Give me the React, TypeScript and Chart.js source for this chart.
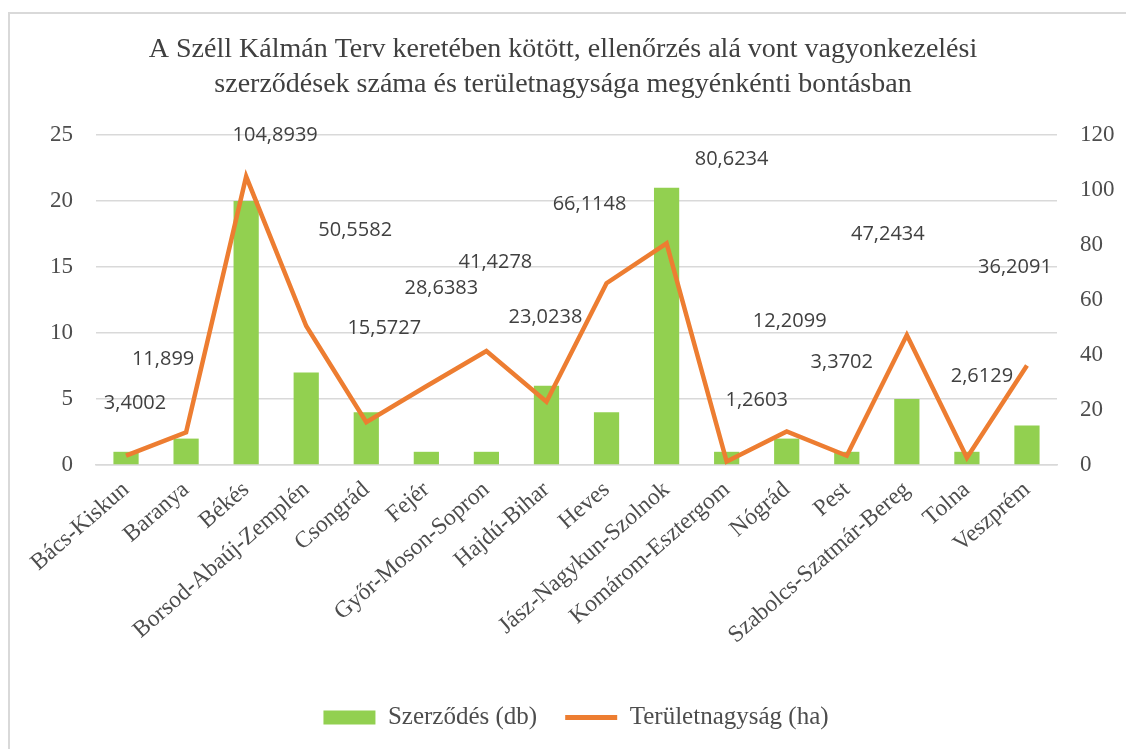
import React, { useEffect, useRef } from "react";
import { Chart, registerables } from "chart.js";

Chart.register(...registerables);

const titleLines = [
  "A Széll Kálmán Terv keretében kötött, ellenőrzés alá vont vagyonkezelési",
  "szerződések száma és területnagysága megyénkénti bontásban",
];

const categories = [
  "Bács-Kiskun",
  "Baranya",
  "Békés",
  "Borsod-Abaúj-Zemplén",
  "Csongrád",
  "Fejér",
  "Győr-Moson-Sopron",
  "Hajdú-Bihar",
  "Heves",
  "Jász-Nagykun-Szolnok",
  "Komárom-Esztergom",
  "Nógrád",
  "Pest",
  "Szabolcs-Szatmár-Bereg",
  "Tolna",
  "Veszprém",
];

const contracts = [1, 2, 20, 7, 4, 1, 1, 6, 4, 21, 1, 2, 1, 5, 1, 3];

const areas = [
  3.4002, 11.899, 104.8939, 50.5582, 15.5727, 28.6383, 41.4278, 23.0238,
  66.1148, 80.6234, 1.2603, 12.2099, 3.3702, 47.2434, 2.6129, 36.2091,
];

const leftTicks = [0, 5, 10, 15, 20, 25];
const rightTicks = [0, 20, 40, 60, 80, 100, 120];

// label placement offsets (px) relative to each line point
const labelOffsets: [number, number][] = [
  [9, -52], [-23, -73], [29, -41], [49, -96], [18, -94], [15, -98],
  [9, -89], [-1, -84], [-17, -79], [65, -84], [30, -61], [3, -110],
  [-5, -93], [-19, -101], [15, -82], [-12, -98],
];

const SERIF = '"Liberation Serif", "Times New Roman", serif';
const SANS = '"Open Sans", "Noto Sans", sans-serif';
const TEXT = "#4D4D4D";
const TITLE = "#404040";
const GRID = "#D9D9D9";
const LEGEND_SHIFT = 13;

const fmt = (v: number) => String(v).replace(".", ",");

const lineLabels = {
  id: "lineLabels",
  afterLayout(chart: any) {
    if (chart.legend) {
      chart.legend.left += LEGEND_SHIFT;
      chart.legend.right += LEGEND_SHIFT;
    }
  },
  afterDatasetsDraw(chart: any) {
    const meta = chart.getDatasetMeta(1);
    const ctx = chart.ctx;
    ctx.save();
    ctx.font = `20px ${SANS}`;
    ctx.fillStyle = "#404040";
    ctx.textAlign = "center";
    ctx.textBaseline = "middle";
    meta.data.forEach((pt: any, i: number) => {
      const [dx, dy] = labelOffsets[i];
      ctx.fillText(fmt(areas[i]), pt.x + dx, pt.y + dy);
    });
    ctx.restore();
  },
};

export default function App() {
  const ref = useRef<HTMLCanvasElement | null>(null);

  useEffect(() => {
    if (!ref.current) return;
    const chart = new Chart(ref.current, {
      data: {
        labels: categories,
        datasets: [
          {
            type: "bar",
            label: "Szerződés (db)",
            data: contracts,
            backgroundColor: "#92D050",
            yAxisID: "y",
            order: 1,
            barPercentage: 0.42,
            categoryPercentage: 1,
          } as any,
          {
            type: "line",
            label: "Területnagyság (ha)",
            data: areas,
            borderColor: "#ED7D31",
            backgroundColor: "#ED7D31",
            borderWidth: 4.5,
            pointRadius: 0,
            tension: 0,
            yAxisID: "y1",
            order: 0,
          } as any,
        ],
      },
      options: {
        responsive: false,
        animation: false,
        layout: { padding: { top: 0, left: 0, right: 0, bottom: 12 } },
        plugins: {
          title: {
            display: true,
            text: titleLines,
            color: TITLE,
            font: { family: SERIF, size: 28, weight: "normal", lineHeight: 1.25 },
            padding: { top: 32, bottom: 33 },
          },
          legend: {
            position: "bottom",
            maxHeight: 60,
            labels: {
              usePointStyle: true,
              pointStyleWidth: 52,
              boxHeight: 14,
              padding: 28,
              color: TEXT,
              font: { family: SERIF, size: 25 },
              sort: (a: any, b: any) => a.datasetIndex - b.datasetIndex,
              generateLabels: (c: any) => {
                const items = (Chart.defaults.plugins.legend.labels as any).generateLabels(c);
                items.forEach((it: any) => {
                  if (it.datasetIndex === 0) {
                    it.pointStyle = "rect";
                    it.lineWidth = 0;
                  } else {
                    it.pointStyle = "line";
                    it.lineWidth = 5;
                    it.strokeStyle = "#ED7D31";
                  }
                });
                return items;
              },
            },
          },
          tooltip: { enabled: false },
        },
        scales: {
          x: {
            grid: { display: false },
            border: { display: true, color: GRID, width: 1.5 },
            ticks: {
              minRotation: 41,
              maxRotation: 41,
              autoSkip: false,
              padding: 3,
              color: TEXT,
              font: { family: SERIF, size: 23.5 },
            },
            afterFit: (s: any) => {
              s.height = 212;
            },
          },
          y: {
            position: "left",
            min: 0,
            max: 25,
            afterBuildTicks: (s: any) => {
              s.ticks = leftTicks.map((v) => ({ value: v }));
            },
            ticks: { padding: 23, color: TEXT, font: { family: SERIF, size: 23 } },
            grid: { color: GRID, lineWidth: 1.5, drawTicks: false },
            border: { display: false },
            afterFit: (s: any) => {
              s.width = 96;
            },
          },
          y1: {
            position: "right",
            min: 0,
            max: 120,
            afterBuildTicks: (s: any) => {
              s.ticks = rightTicks.map((v) => ({ value: v }));
            },
            ticks: { padding: 23, color: TEXT, font: { family: SERIF, size: 23 } },
            grid: { drawOnChartArea: false, drawTicks: false },
            border: { display: false },
            afterFit: (s: any) => {
              s.width = 69;
            },
          },
        },
      } as any,
      plugins: [lineLabels],
    });
    return () => chart.destroy();
  }, []);

  return (
    <div
      style={{
        position: "fixed",
        left: 0,
        top: 0,
        width: 1126,
        height: 749,
        overflow: "hidden",
        background: "#fff",
      }}
    >
      <div
        style={{
          position: "absolute",
          left: 8,
          top: 12,
          width: 2000,
          height: 2000,
          borderLeft: "2px solid #D9D9D9",
          borderTop: "2px solid #D9D9D9",
        }}
      />
      <canvas
        ref={ref}
        width={1126}
        height={749}
        style={{ position: "absolute", left: 0, top: 0, width: 1126, height: 749 }}
      />
    </div>
  );
}
